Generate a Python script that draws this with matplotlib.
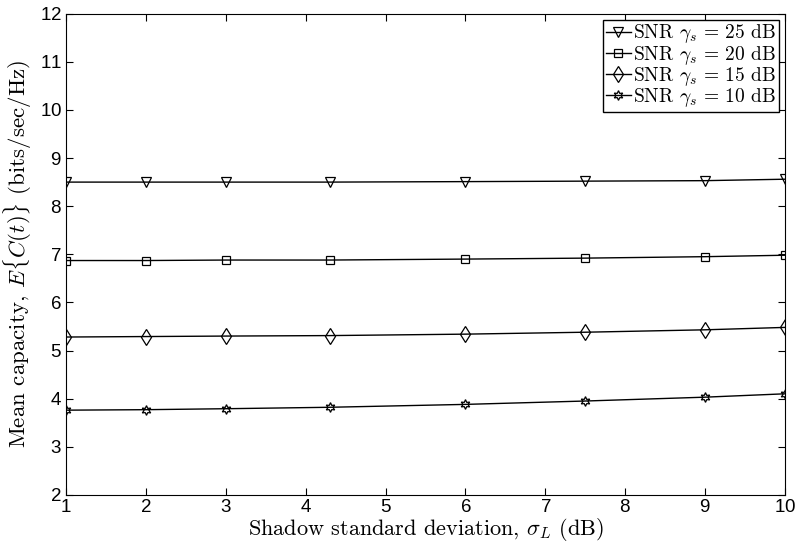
import matplotlib
matplotlib.use("Agg")
import matplotlib.pyplot as plt

plt.rcParams['mathtext.fontset'] = 'cm'
plt.rcParams['axes.formatter.use_mathtext'] = True

sigma = [1, 2, 3, 4.3, 6, 7.5, 9, 10]
cap_25 = [8.50, 8.50, 8.50, 8.50, 8.51, 8.52, 8.53, 8.56]
cap_20 = [6.87, 6.87, 6.88, 6.88, 6.90, 6.92, 6.95, 6.98]
cap_15 = [5.28, 5.29, 5.30, 5.31, 5.34, 5.38, 5.43, 5.48]
cap_10 = [3.76, 3.77, 3.79, 3.82, 3.88, 3.95, 4.03, 4.10]

labels = [r"SNR $\gamma_s$ = 25 dB", r"SNR $\gamma_s$ = 20 dB",
          r"SNR $\gamma_s$ = 15 dB", r"SNR $\gamma_s$ = 10 dB"]

fig = plt.figure(figsize=(7.96, 5.48), dpi=100)
ax = fig.add_axes([0.083, 0.097, 0.903, 0.878])

ax.plot(sigma, cap_25, color="black", lw=1, marker="v", ms=7.5, mfc="none", mec="black", mew=0.9, label=labels[0])
ax.plot(sigma, cap_20, color="black", lw=1, marker="s", ms=5.5, mfc="none", mec="black", mew=0.9, label=labels[1])
ax.plot(sigma, cap_15, color="black", lw=1, marker="d", ms=8, mfc="none", mec="black", mew=0.9, label=labels[2])
ax.plot(sigma, cap_10, color="black", lw=1, marker=(6, 1, 0), ms=7, mfc="none", mec="black", mew=0.9, label=labels[3])

ax.set_xlim(1, 10)
ax.set_ylim(2, 12)
ax.set_xticks(range(1, 11))
ax.set_yticks(range(2, 13))
ax.tick_params(direction="in", top=True, right=True, labelsize=13.5, length=5, pad=3)
for lab in ax.get_xticklabels() + ax.get_yticklabels():
    lab.set_family("Liberation Sans")

ax.set_xlabel(r"Shadow standard deviation, $\sigma_L$ (dB)", fontsize=16, family="cmr10", labelpad=0)
ax.set_ylabel(r"Mean capacity, $E\{C(t)\}$ (bits/sec/Hz)", fontsize=16.5, family="cmr10", labelpad=4)

leg = ax.legend(loc="upper right", prop={"family": "cmr10", "size": 14},
                handlelength=1.3, handletextpad=0.1, borderpad=0.15, labelspacing=-0.1,
                borderaxespad=0.3, fancybox=False, framealpha=1)
leg.get_frame().set_edgecolor("black")
leg.get_frame().set_linewidth(1)

fig.savefig("out.png", dpi=100)
